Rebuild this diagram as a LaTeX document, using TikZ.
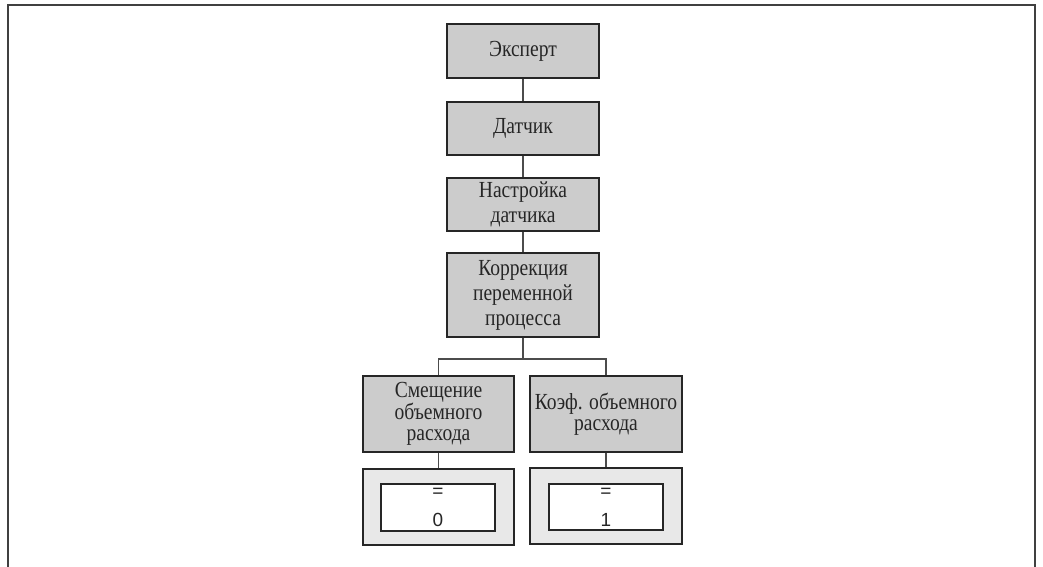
\documentclass[tikz,border=0pt]{standalone}
\usepackage{fontspec}
\setmainfont{Liberation Serif}[FakeStretch=0.85]
\newfontfamily\valfont{Liberation Sans}
\begin{document}
\begin{tikzpicture}[x=1bp,y=-1bp,
  menu/.style={draw=black!85,line width=1.1bp,fill=black!20,rectangle,inner sep=0pt,
    align=center,text=black!85,font=\fontsize{23bp}{25bp}\selectfont},
  tight/.style={font=\fontsize{23bp}{21.5bp}\selectfont},
  valouter/.style={draw=black!85,line width=1.1bp,fill=black!9,rectangle,inner sep=0pt},
  valinner/.style={draw=black!85,line width=1.1bp,fill=white,rectangle,inner sep=0pt,
    align=center,text=black!85,font=\valfont\fontsize{19bp}{29bp}\selectfont},
  conn/.style={draw=black!70,line width=1.2bp}]
\useasboundingbox (0,0) rectangle (1043,567);
\draw[draw=black!75,line width=2bp] (8,567) -- (8,5) -- (1035,5) -- (1035,567);
\node[menu,minimum width=152bp,minimum height=54bp] (exp) at (523,51) {Эксперт};
\node[menu,minimum width=152bp,minimum height=53bp] (dat) at (523,128.5) {Датчик};
\node[menu,minimum width=152bp,minimum height=53bp] (nas) at (523,204.5) {Настройка\\датчика};
\node[menu,minimum width=152bp,minimum height=84bp] (kor) at (523,295) {Коррекция\\переменной\\процесса};
\node[menu,tight,minimum width=151bp,minimum height=76bp] (sme) at (438.5,414) {Смещение\\объемного\\расхода};
\node[menu,tight,minimum width=152bp,minimum height=76bp] (koe) at (606,414) {Коэф. объемного\\расхода};
\node[valouter,minimum width=151bp,minimum height=76bp] (vlo) at (438.5,507) {};
\node[valinner,minimum width=114bp,minimum height=47bp] (vli) at (438,507.5) {=\\0};
\node[valouter,minimum width=152bp,minimum height=76bp] (vro) at (606,506) {};
\node[valinner,minimum width=114bp,minimum height=46bp] (vri) at (606,507) {=\\1};
\coordinate (br) at (523,359);
\draw[conn] (exp.south) -- (dat.north);
\draw[conn] (dat.south) -- (nas.north);
\draw[conn] (nas.south) -- (kor.north);
\draw[conn] (kor.south) -- (br);
\draw[conn] (sme.north) |- (br) -| (koe.north);
\draw[conn] (sme.south) -- (vlo.north);
\draw[conn] (koe.south) -- (vro.north);
\end{tikzpicture}
\end{document}
